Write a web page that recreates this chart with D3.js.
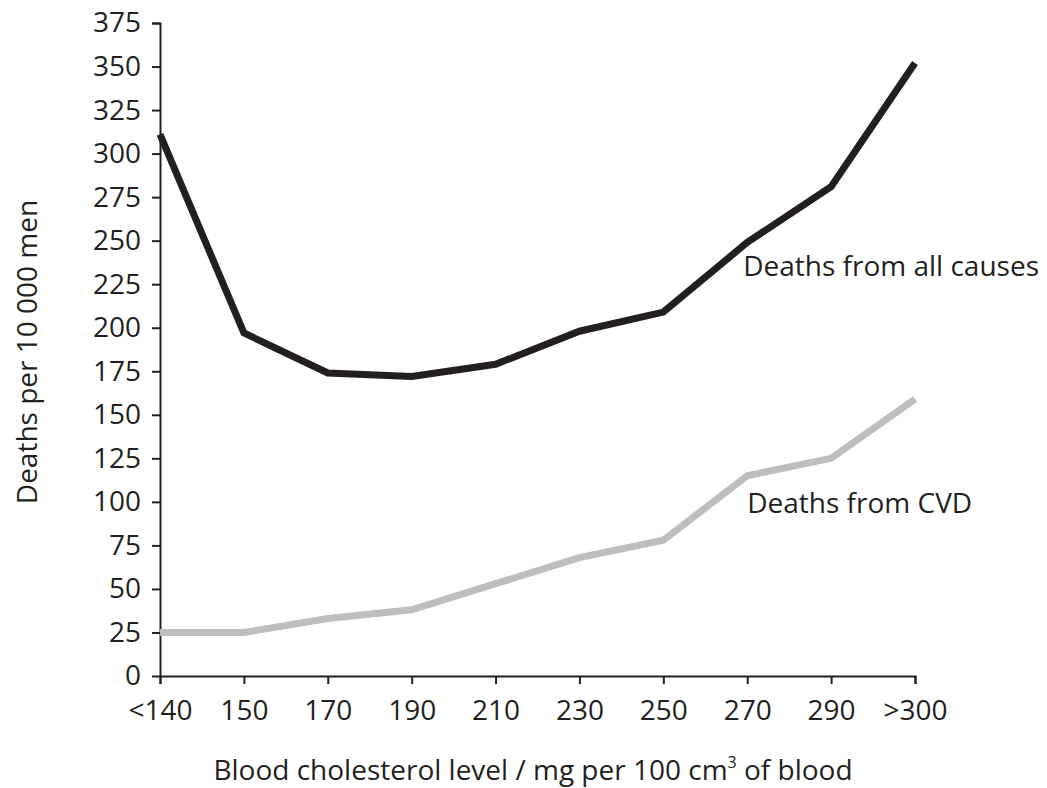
<!DOCTYPE html>
<html>
<head>
<meta charset="utf-8">
<script src="https://cdn.jsdelivr.net/npm/d3@7"></script>
<style>
  body { margin: 0; background: #fff; }
  text { font-family: "Open Sans", "Noto Sans", sans-serif; fill: #231f20; }
</style>
</head>
<body>
<div class="canvas"></div>
<script>
// data
const categories = ['<140', '150', '170', '190', '210', '230', '250', '270', '290', '>300'];
const allCauses = [311, 197, 174, 172, 179, 198, 209, 249, 281, 352];
const cvd = [25, 25, 33, 38, 53, 68, 78, 115, 125, 159];
const yTicks = d3.range(0, 376, 25);

const svg = d3.select('.canvas')
    .append('svg')
    .attr('width', 1047)
    .attr('height', 788);

const margin = { top: 23, right: 132, bottom: 112, left: 160 };
const graphWidth = 1047 - margin.left - margin.right;
const graphHeight = 788 - margin.top - margin.bottom;

const graph = svg.append('g')
    .attr('transform', `translate(${margin.left},${margin.top})`);

const x = d3.scalePoint()
    .domain(categories)
    .range([0, graphWidth]);

const y = d3.scaleLinear()
    .domain([0, 375])
    .range([graphHeight, 0]);

const xAxis = d3.axisBottom(x).tickSize(8).tickPadding(16);
const yAxis = d3.axisLeft(y).tickValues(yTicks).tickSize(8).tickPadding(11);

const xAxisGroup = graph.append('g')
    .attr('transform', `translate(0,${graphHeight})`)
    .call(xAxis);
const yAxisGroup = graph.append('g').call(yAxis);

[xAxisGroup, yAxisGroup].forEach(g => {
    g.select('.domain').attr('stroke', '#231f20').attr('stroke-width', 2);
    g.selectAll('.tick line').attr('stroke', '#231f20').attr('stroke-width', 2);
    g.selectAll('.tick text')
        .attr('font-size', 28)
        .attr('font-family', '"Open Sans", sans-serif')
        .attr('fill', '#231f20');
});
yAxisGroup.select('.domain').attr('d', `M-8,0.5H0.5V${graphHeight}`);

const line = d3.line()
    .x((d, i) => x(categories[i]))
    .y(d => y(d));

graph.append('path')
    .datum(cvd)
    .attr('fill', 'none')
    .attr('stroke', '#bcbec0')
    .attr('stroke-width', 7)
    .attr('d', line);

graph.append('path')
    .datum(allCauses)
    .attr('fill', 'none')
    .attr('stroke', '#231f20')
    .attr('stroke-width', 7)
    .attr('d', line);

// series labels
graph.append('text')
    .attr('x', x('270') - 4)
    .attr('y', y(allCauses[7]) + 34)
    .attr('font-size', 28)
    .text('Deaths from all causes');

graph.append('text')
    .attr('x', x('270'))
    .attr('y', y(cvd[7]) + 37)
    .attr('font-size', 28)
    .text('Deaths from CVD');

// axis titles
const xTitle = svg.append('text')
    .attr('x', 533)
    .attr('y', 780)
    .attr('text-anchor', 'middle')
    .attr('font-size', 28);
xTitle.append('tspan').text('Blood cholesterol level / mg per 100 cm');
xTitle.append('tspan').attr('font-size', 16).attr('dy', -12).text('3');
xTitle.append('tspan').attr('dy', 12).text(' of blood');

svg.append('text')
    .attr('transform', 'translate(37,352) rotate(-90)')
    .attr('text-anchor', 'middle')
    .attr('font-size', 28)
    .text('Deaths per 10 000 men');
</script>
</body>
</html>
